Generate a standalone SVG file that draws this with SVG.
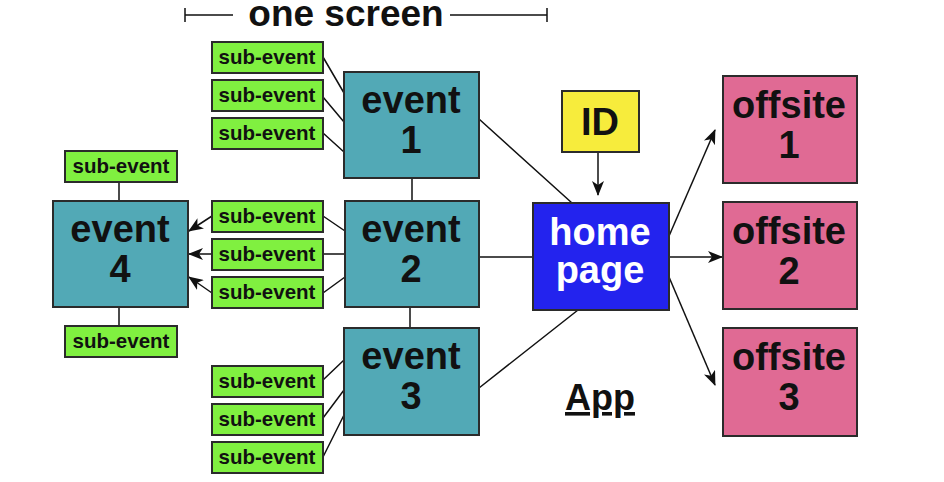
<svg xmlns="http://www.w3.org/2000/svg" width="944" height="482" viewBox="0 0 944 482">
<defs>
<style>
.ev{fill:#52a9b6;stroke:#2b2b2b;stroke-width:2}
.sub{fill:#80f040;stroke:#2b2b2b;stroke-width:2}
.off{fill:#e06a94;stroke:#2b2b2b;stroke-width:2}
.home{fill:#2323ee;stroke:#2b2b2b;stroke-width:2}
.id{fill:#f7ec3c;stroke:#2b2b2b;stroke-width:2}
.big{font-family:"Liberation Sans",Arial,sans-serif;font-weight:bold;font-size:38px;fill:#111;text-anchor:middle}
.st{font-family:"Liberation Sans",Arial,sans-serif;font-weight:bold;font-size:20.5px;fill:#111;text-anchor:middle}
.ln{stroke:#111;stroke-width:1.5;fill:none}
</style>
<marker id="ah" markerUnits="userSpaceOnUse" markerWidth="16" markerHeight="12" refX="14" refY="6" orient="auto">
<path d="M0,0 L15,6 L0,12 L4,6 z" fill="#111"/>
</marker>
</defs>
<rect width="944" height="482" fill="#ffffff"/>

<g id="title">
<path class="ln" d="M185,8 V22 M185,15 H233 M450,15 H547 M547,8 V22"/>
<text class="big" x="346" y="26" style="font-size:37px">one screen</text>
</g>

<g id="connectors">
<path class="ln" d="M323,57 L344,93 M323,97 L344,122 M323,133 L344,152"/>
<path class="ln" d="M323,216 L345,231 M323,254 L345,254 M323,293 L345,277"/>
<path class="ln" d="M323,380 L344,360 M323,418 L344,390 M323,457 L344,415"/>
<path class="ln" d="M412,178 V201 M410,307 V328 M119,182 V201 M119,307 V326"/>
<path class="ln" d="M212,216 L189,231" marker-end="url(#ah)"/>
<path class="ln" d="M212,254 L189,254" marker-end="url(#ah)"/>
<path class="ln" d="M212,293 L189,277" marker-end="url(#ah)"/>
<path class="ln" d="M479,119 L572,203 M479,257 L533,257 M479,388 L578,310"/>
<path class="ln" d="M598,152 L598,195" marker-end="url(#ah)"/>
<path class="ln" d="M669,236 L715,130" marker-end="url(#ah)"/>
<path class="ln" d="M669,257 L722,257" marker-end="url(#ah)"/>
<path class="ln" d="M669,277 L715,385" marker-end="url(#ah)"/>
</g>

<g id="event1"><rect class="ev" x="344" y="72" width="135" height="106"/><text class="big" x="411" y="113">event</text><text class="big" x="411" y="153">1</text></g>
<g id="event2"><rect class="ev" x="345" y="201" width="134" height="106"/><text class="big" x="411" y="242">event</text><text class="big" x="411" y="282">2</text></g>
<g id="event3"><rect class="ev" x="344" y="328" width="135" height="107"/><text class="big" x="411" y="369">event</text><text class="big" x="411" y="409">3</text></g>
<g id="event4"><rect class="ev" x="53" y="201" width="135" height="106"/><text class="big" x="120" y="242">event</text><text class="big" x="120" y="282">4</text></g>

<g id="sub1a"><rect class="sub" x="212" y="42" width="111" height="31"/><text class="st" x="267" y="64">sub-event</text></g>
<g id="sub1b"><rect class="sub" x="212" y="80" width="111" height="31"/><text class="st" x="267" y="102">sub-event</text></g>
<g id="sub1c"><rect class="sub" x="212" y="118" width="111" height="31"/><text class="st" x="267" y="140">sub-event</text></g>
<g id="sub2a"><rect class="sub" x="212" y="201" width="111" height="31"/><text class="st" x="267" y="223">sub-event</text></g>
<g id="sub2b"><rect class="sub" x="212" y="239" width="111" height="31"/><text class="st" x="267" y="261">sub-event</text></g>
<g id="sub2c"><rect class="sub" x="212" y="277" width="111" height="31"/><text class="st" x="267" y="299">sub-event</text></g>
<g id="sub3a"><rect class="sub" x="212" y="366" width="111" height="31"/><text class="st" x="267" y="388">sub-event</text></g>
<g id="sub3b"><rect class="sub" x="212" y="404" width="111" height="31"/><text class="st" x="267" y="426">sub-event</text></g>
<g id="sub3c"><rect class="sub" x="212" y="442" width="111" height="31"/><text class="st" x="267" y="464">sub-event</text></g>
<g id="sub4a"><rect class="sub" x="65" y="151" width="112" height="31"/><text class="st" x="121" y="173">sub-event</text></g>
<g id="sub4b"><rect class="sub" x="65" y="326" width="112" height="31"/><text class="st" x="121" y="348">sub-event</text></g>

<g id="id"><rect class="id" x="562" y="91" width="77" height="61"/><text class="big" x="600" y="135">ID</text></g>
<g id="home"><rect class="home" x="533" y="203" width="136" height="107"/><text class="big" x="600" y="245" style="fill:#fff">home</text><text class="big" x="600" y="283" style="fill:#fff">page</text></g>

<g id="offsite1"><rect class="off" x="723" y="76" width="134" height="107"/><text class="big" x="789" y="118">offsite</text><text class="big" x="789" y="158">1</text></g>
<g id="offsite2"><rect class="off" x="723" y="202" width="134" height="107"/><text class="big" x="789" y="244">offsite</text><text class="big" x="789" y="284">2</text></g>
<g id="offsite3"><rect class="off" x="723" y="328" width="134" height="108"/><text class="big" x="789" y="370">offsite</text><text class="big" x="789" y="410">3</text></g>

<g id="app"><text class="big" x="600" y="410" style="font-size:36px;text-decoration:underline">App</text></g>
</svg>
